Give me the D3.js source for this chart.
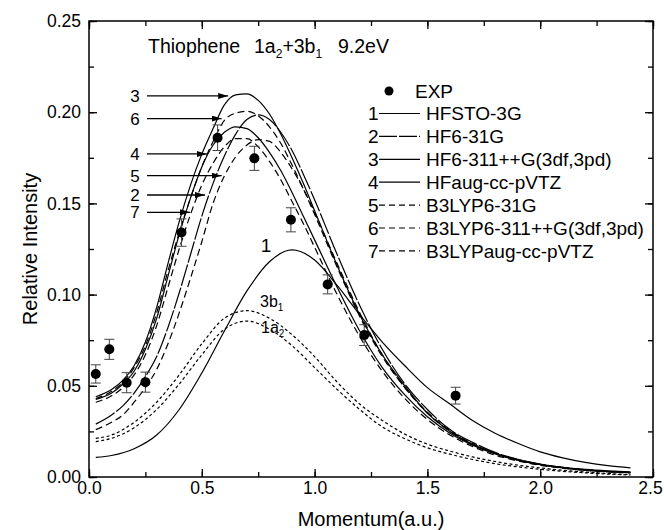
<!DOCTYPE html>
<html>
<head>
<meta charset="utf-8">
<script src="https://cdn.jsdelivr.net/npm/d3@7"></script>
<style>
  body { margin: 0; background: #fff; }
  text { font-family: "Liberation Sans", Arial, sans-serif; fill: #000; }
</style>
</head>
<body>
<div id="chart"></div>
<script>
// momentum grids (a.u.)
const momentumFine = [0.03, 0.1, 0.15, 0.2, 0.25, 0.3, 0.35, 0.4, 0.45, 0.5, 0.55, 0.6, 0.65, 0.7, 0.75, 0.8, 0.85, 0.9, 0.95, 1.0,
  1.1, 1.2, 1.3, 1.4, 1.5, 1.6, 1.7, 1.8, 1.9, 2.0, 2.1, 2.2, 2.3, 2.4];
const momentumCoarse = [0.03, 0.1, 0.2, 0.3, 0.4, 0.5, 0.6, 0.7, 0.8, 0.9, 1.0, 1.1, 1.2, 1.3, 1.4, 1.5, 1.6, 1.7, 1.8, 1.9,
  2.0, 2.1, 2.2, 2.3, 2.4];

// theory curves
const hfSto3g = [0.0108, 0.0118, 0.0155, 0.023, 0.037, 0.057, 0.080, 0.102, 0.118, 0.1245, 0.119, 0.105, 0.089, 0.074, 0.061,
  0.049, 0.040, 0.031, 0.024, 0.0185, 0.0138, 0.0105, 0.008, 0.0062, 0.005];
const hf631g = [0.029, 0.034, 0.039, 0.046, 0.055, 0.066, 0.082, 0.101, 0.122, 0.143, 0.161, 0.176, 0.188, 0.196, 0.1985, 0.196,
  0.189, 0.179, 0.166, 0.152, 0.122, 0.094, 0.070, 0.051, 0.037, 0.026, 0.019, 0.0135, 0.0097, 0.0071, 0.0053, 0.004, 0.0031, 0.0025];
const hf6311 = [0.044, 0.048, 0.053, 0.061, 0.074, 0.093, 0.117, 0.140, 0.160, 0.177, 0.191, 0.204, 0.2095, 0.210, 0.2065, 0.199,
  0.188, 0.175, 0.161, 0.146, 0.116, 0.089, 0.067, 0.050, 0.035, 0.025, 0.018, 0.013, 0.0095, 0.007, 0.0053, 0.0042, 0.0034, 0.0028];
const hfAug = [0.0425, 0.046, 0.051, 0.058, 0.070, 0.087, 0.110, 0.133, 0.153, 0.170, 0.182, 0.189, 0.192, 0.191, 0.186, 0.178,
  0.168, 0.156, 0.143, 0.130, 0.104, 0.080, 0.060, 0.045, 0.033, 0.024, 0.0175, 0.0127, 0.0092, 0.0067, 0.005, 0.0038, 0.003, 0.0024];
const b3lyp631g = [0.026, 0.030, 0.034, 0.041, 0.049, 0.059, 0.073, 0.090, 0.109, 0.129, 0.150, 0.165, 0.1755, 0.182, 0.185, 0.184,
  0.178, 0.169, 0.158, 0.145, 0.117, 0.090, 0.067, 0.049, 0.0355, 0.0255, 0.0183, 0.013, 0.0094, 0.0069, 0.0051, 0.0038, 0.003, 0.0024];
const b3lyp6311 = [0.043, 0.047, 0.052, 0.060, 0.072, 0.090, 0.113, 0.134, 0.153, 0.170, 0.184, 0.1955, 0.1995, 0.2005, 0.198, 0.192,
  0.183, 0.171, 0.158, 0.144, 0.115, 0.088, 0.066, 0.049, 0.035, 0.025, 0.018, 0.013, 0.0093, 0.0068, 0.005, 0.0038, 0.003, 0.0024];
const b3lypAug = [0.041, 0.0445, 0.049, 0.056, 0.067, 0.083, 0.104, 0.125, 0.144, 0.160, 0.172, 0.181, 0.1855, 0.1855, 0.181, 0.173,
  0.163, 0.151, 0.139, 0.126, 0.100, 0.077, 0.058, 0.043, 0.0315, 0.023, 0.0167, 0.012, 0.0088, 0.0064, 0.0048, 0.0036, 0.0028, 0.0022];
// orbital components
const comp3b1 = [0.0212, 0.023, 0.030, 0.041, 0.056, 0.073, 0.087, 0.0912, 0.087, 0.078, 0.066, 0.052, 0.040, 0.031, 0.0235,
  0.018, 0.0142, 0.011, 0.0085, 0.0065, 0.005, 0.0037, 0.0027, 0.0019, 0.0013];
const comp1a2 = [0.0194, 0.0212, 0.027, 0.037, 0.051, 0.067, 0.081, 0.0855, 0.081, 0.072, 0.060, 0.048, 0.037, 0.0275, 0.021,
  0.016, 0.0125, 0.0096, 0.0073, 0.0056, 0.0042, 0.0031, 0.0023, 0.0016, 0.0011];

// experiment
const expMomentum = [0.03, 0.09, 0.167, 0.25, 0.41, 0.57, 0.733, 0.895, 1.058, 1.22, 1.625];
const expIntensity = [0.0565, 0.070, 0.0517, 0.052, 0.134, 0.186, 0.1747, 0.141, 0.1056, 0.0778, 0.0446];
const expError = [0.005, 0.0055, 0.0055, 0.0055, 0.0075, 0.007, 0.0066, 0.0066, 0.0052, 0.0057, 0.0046];

const legendNums = ["1", "2", "3", "4", "5", "6", "7"];
const legendNames = ["HFSTO-3G", "HF6-31G", "HF6-311++G(3df,3pd)", "HFaug-cc-pVTZ", "B3LYP6-31G", "B3LYP6-311++G(3df,3pd)", "B3LYPaug-cc-pVTZ"];

// arrow annotations: label, tip momentum, intensity
const arrowLabels = ["3", "6", "4", "5", "2", "7"];
const arrowTipX = [0.617, 0.588, 0.522, 0.588, 0.514, 0.448];
const arrowTipY = [0.2089, 0.1965, 0.1771, 0.1652, 0.1546, 0.1451];

const xTicks = [0, 0.5, 1.0, 1.5, 2.0, 2.5];
const yTicks = [0, 0.05, 0.10, 0.15, 0.20, 0.25];

const W = 664, H = 530;
const margin = {top: 21, right: 11, bottom: 53, left: 89};

const svg = d3.select("#chart").append("svg").attr("width", W).attr("height", H);

const x = d3.scaleLinear().domain([0, 2.5]).range([margin.left, W - margin.right]);
const y = d3.scaleLinear().domain([0, 0.25]).range([H - margin.bottom, margin.top]);

const solid = null, longDash = "22,2", dashed = "7,4", fine = "3,2.5";
const series = [
  {xs: momentumFine, ys: hf631g, dash: longDash},
  {xs: momentumFine, ys: hf6311, dash: solid},
  {xs: momentumFine, ys: hfAug, dash: solid},
  {xs: momentumFine, ys: b3lyp631g, dash: dashed},
  {xs: momentumFine, ys: b3lyp6311, dash: dashed},
  {xs: momentumFine, ys: b3lypAug, dash: dashed},
  {xs: momentumCoarse, ys: hfSto3g, dash: solid},
  {xs: momentumCoarse, ys: comp3b1, dash: fine},
  {xs: momentumCoarse, ys: comp1a2, dash: fine}
];

const line = d3.line().curve(d3.curveMonotoneX);

svg.append("g").selectAll("path")
  .data(series)
  .enter()
  .append("path")
  .attr("d", s => line(s.xs.map((v, i) => [x(v), y(s.ys[i])])))
  .attr("fill", "none")
  .attr("stroke", "#000")
  .attr("stroke-width", 1.2)
  .attr("stroke-dasharray", s => s.dash);

// axes, ticks inward
function styleAxis(g) {
  g.select(".domain").remove();
  g.selectAll("line").attr("stroke", "#000").attr("stroke-width", 1.3);
  g.selectAll("text").attr("font-size", 17.5).attr("fill", "#000")
    .attr("font-family", "Liberation Sans, Arial, sans-serif");
}
const xMinor = d3.range(0, 2.51, 0.25);
const yMinor = d3.range(0, 0.2501, 0.025);

svg.append("g").attr("transform", `translate(0,${y(0)})`)
  .call(d3.axisBottom(x).tickValues(xTicks).tickSize(-8).tickPadding(5).tickFormat(d3.format(".1f"))).call(styleAxis)
  .selectAll("text").filter(d => d === 2.5).attr("dx", -3);
svg.append("g").attr("transform", `translate(0,${y(0)})`)
  .call(d3.axisBottom(x).tickValues(xMinor).tickSize(-5).tickFormat("")).call(styleAxis);
svg.append("g").attr("transform", `translate(0,${y(0.25)})`)
  .call(d3.axisTop(x).tickValues(xTicks).tickSize(-8).tickFormat("")).call(styleAxis);
svg.append("g").attr("transform", `translate(0,${y(0.25)})`)
  .call(d3.axisTop(x).tickValues(xMinor).tickSize(-5).tickFormat("")).call(styleAxis);

svg.append("g").attr("transform", `translate(${x(0)},0)`)
  .call(d3.axisLeft(y).tickValues(yTicks).tickSize(-8).tickPadding(8).tickFormat(d3.format(".2f"))).call(styleAxis);
svg.append("g").attr("transform", `translate(${x(0)},0)`)
  .call(d3.axisLeft(y).tickValues(yMinor).tickSize(-5).tickFormat("")).call(styleAxis);
svg.append("g").attr("transform", `translate(${x(2.5)},0)`)
  .call(d3.axisRight(y).tickValues(yTicks).tickSize(-8).tickFormat("")).call(styleAxis);
svg.append("g").attr("transform", `translate(${x(2.5)},0)`)
  .call(d3.axisRight(y).tickValues(yMinor).tickSize(-5).tickFormat("")).call(styleAxis);

svg.append("rect")
  .attr("x", x(0)).attr("y", y(0.25))
  .attr("width", x(2.5) - x(0)).attr("height", y(0) - y(0.25))
  .attr("fill", "none").attr("stroke", "#000").attr("stroke-width", 1.5);

// axis titles
svg.append("text")
  .attr("x", (x(0) + x(2.5)) / 2).attr("y", 526)
  .attr("text-anchor", "middle").attr("font-size", 20)
  .text("Momentum(a.u.)");
svg.append("text")
  .attr("transform", `translate(37,${(y(0) + y(0.25)) / 2}) rotate(-90)`)
  .attr("text-anchor", "middle").attr("font-size", 20)
  .text("Relative Intensity");

// experiment points with error bars
const exp = expMomentum.map((m, i) => ({m: m, v: expIntensity[i], e: expError[i]}));
const pts = svg.append("g").selectAll("g").data(exp).enter().append("g");
pts.append("line")
  .attr("x1", d => x(d.m)).attr("x2", d => x(d.m))
  .attr("y1", d => y(d.v - d.e)).attr("y2", d => y(d.v + d.e))
  .attr("stroke", "#444").attr("stroke-width", 1);
[-1, 1].forEach(sgn => {
  pts.append("line")
    .attr("x1", d => x(d.m) - 5).attr("x2", d => x(d.m) + 5)
    .attr("y1", d => y(d.v + sgn * d.e)).attr("y2", d => y(d.v + sgn * d.e))
    .attr("stroke", "#444").attr("stroke-width", 1);
});
pts.append("circle")
  .attr("cx", d => x(d.m)).attr("cy", d => y(d.v)).attr("r", 5)
  .attr("fill", "#000");

// title
const title = svg.append("g").attr("font-size", 19.5);
title.append("text").attr("x", 148).attr("y", 53).text("Thiophene");
const mid = title.append("text").attr("x", 254).attr("y", 53);
mid.append("tspan").text("1a");
mid.append("tspan").attr("font-size", 12).attr("dy", 5).text("2");
mid.append("tspan").attr("dy", -5).text("+3b");
mid.append("tspan").attr("font-size", 12).attr("dy", 5).text("1");
title.append("text").attr("x", 338).attr("y", 53).text("9.2eV");

// legend
const legend = svg.append("g");
legend.append("circle").attr("cx", 389).attr("cy", 91).attr("r", 4.5).attr("fill", "#000");
legend.append("text").attr("x", 415).attr("y", 91).attr("dy", "0.35em").attr("font-size", 19).text("EXP");
const legendDash = [solid, "18,2", solid, solid, dashed, dashed, dashed];
const rows = legend.selectAll("g.row").data(legendNames).enter().append("g")
  .attr("transform", (d, i) => `translate(0,${113.5 + i * 22.9})`);
rows.append("text").attr("x", 368).attr("dy", "0.35em").attr("font-size", 19)
  .text((d, i) => legendNums[i]);
rows.append("line").attr("x1", 379).attr("x2", 420)
  .attr("stroke", "#000").attr("stroke-width", 1.2)
  .attr("stroke-dasharray", (d, i) => legendDash[i] === dashed ? "6,4" : legendDash[i]);
rows.append("text").attr("x", 426).attr("dy", "0.35em").attr("font-size", 19).text(d => d);

// arrow annotations
svg.append("defs").append("marker")
  .attr("id", "head").attr("viewBox", "0 0 10 6").attr("refX", 10).attr("refY", 3)
  .attr("markerWidth", 10).attr("markerHeight", 6).attr("markerUnits", "userSpaceOnUse")
  .attr("orient", "auto")
  .append("path").attr("d", "M0,0L10,3L0,6Z").attr("fill", "#000");
const arrows = svg.append("g").selectAll("g").data(arrowLabels).enter().append("g");
arrows.append("line")
  .attr("x1", 147).attr("x2", (d, i) => x(arrowTipX[i]))
  .attr("y1", (d, i) => y(arrowTipY[i])).attr("y2", (d, i) => y(arrowTipY[i]))
  .attr("stroke", "#000").attr("stroke-width", 1.3)
  .attr("marker-end", "url(#head)");
arrows.append("text")
  .attr("x", 135).attr("y", (d, i) => y(arrowTipY[i]))
  .attr("dy", "0.35em").attr("text-anchor", "middle").attr("font-size", 17)
  .text(d => d);

// curve labels
svg.append("text").attr("x", x(0.785)).attr("y", 252).attr("font-size", 19).attr("text-anchor", "middle").text("1");
const lb1 = svg.append("text").attr("x", 260).attr("y", 307).attr("font-size", 16);
lb1.append("tspan").text("3b");
lb1.append("tspan").attr("font-size", 10).attr("dy", 4).text("1");
const lb2 = svg.append("text").attr("x", 261).attr("y", 333).attr("font-size", 16);
lb2.append("tspan").text("1a");
lb2.append("tspan").attr("font-size", 10).attr("dy", 4).text("2");
</script>
</body>
</html>
